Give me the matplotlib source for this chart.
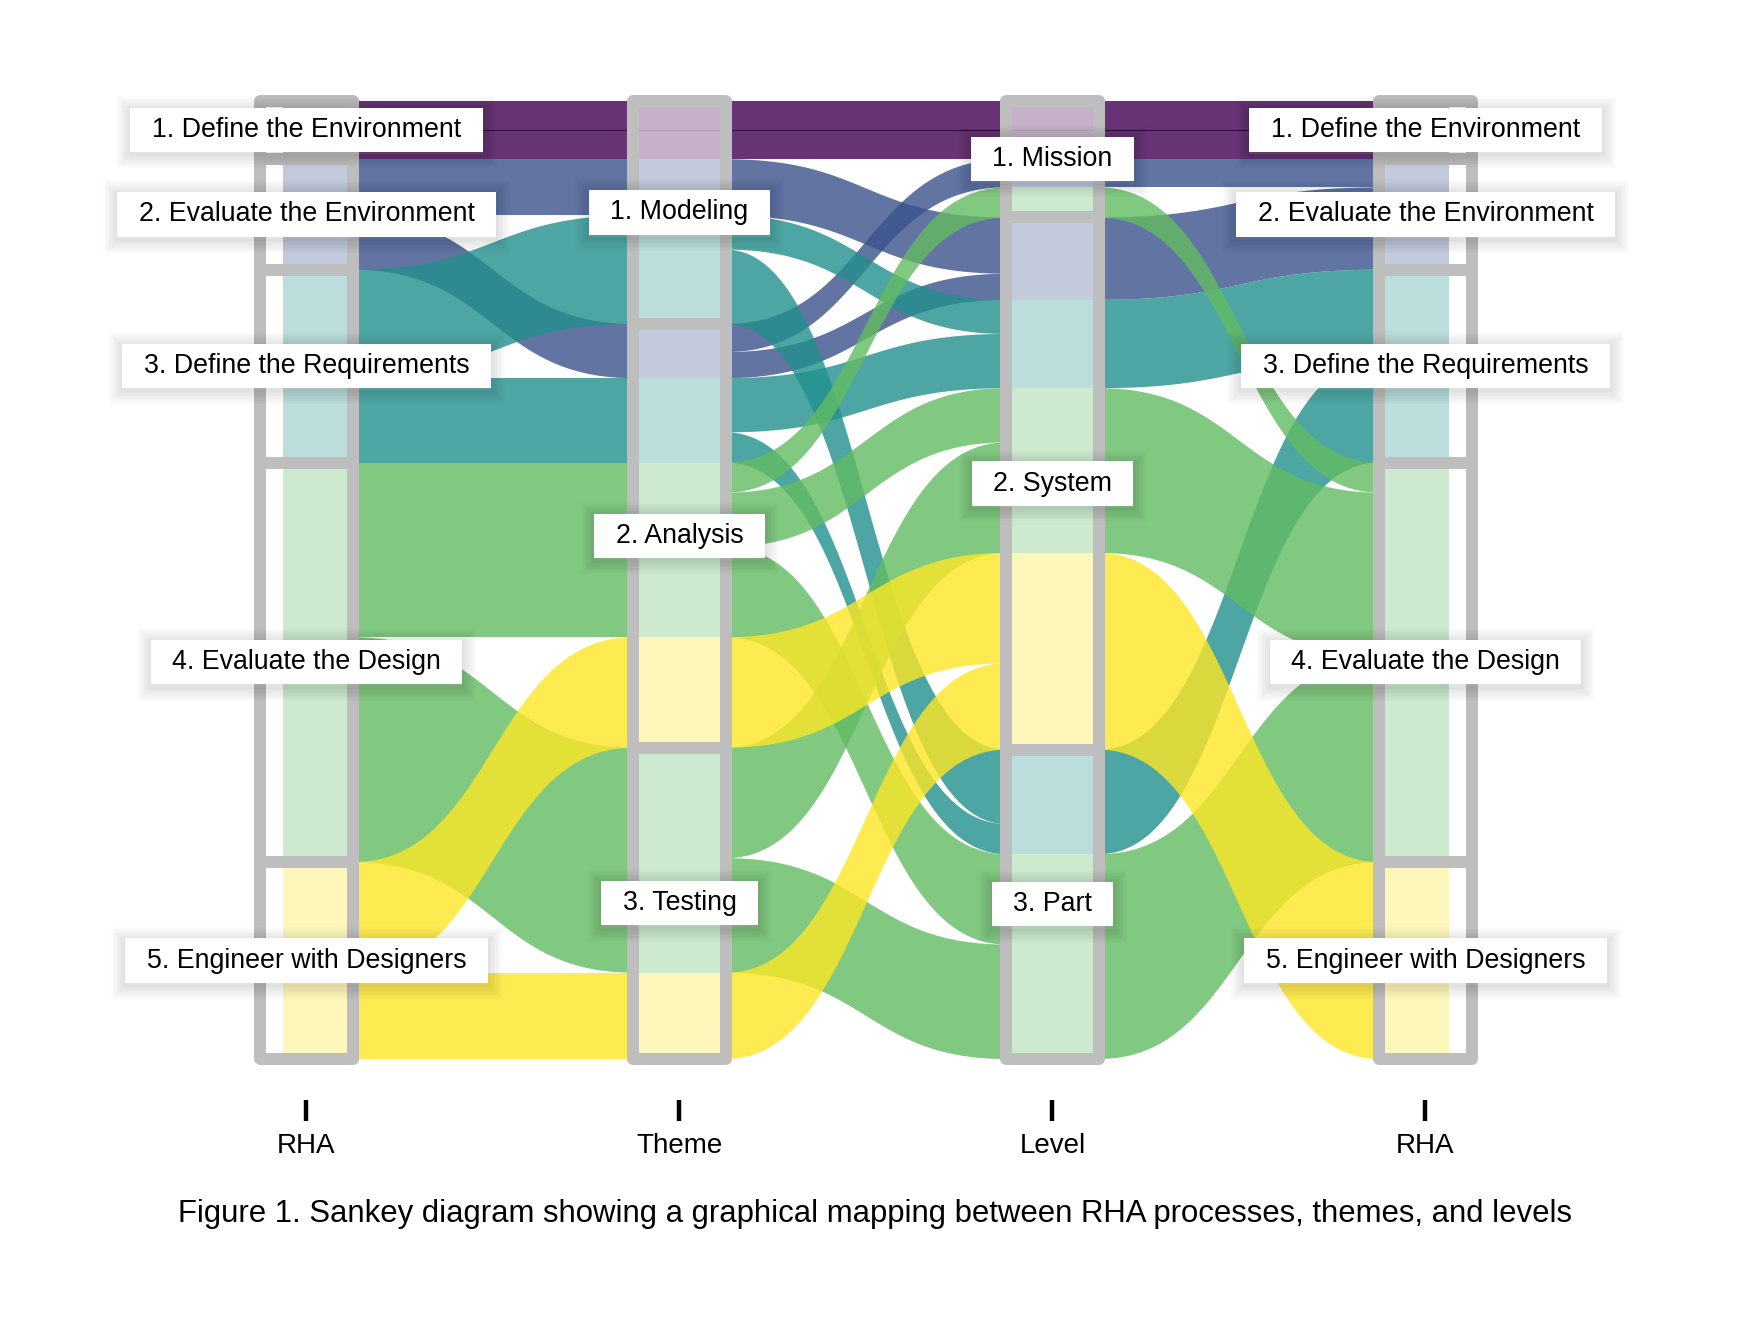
import numpy as np
import matplotlib
matplotlib.use("Agg")
import matplotlib.pyplot as plt
from matplotlib.patches import Rectangle
from matplotlib.path import Path
import matplotlib.patheffects as pe

# categories of the three variables
rha_names = ["1. Define the Environment", "2. Evaluate the Environment",
             "3. Define the Requirements", "4. Evaluate the Design",
             "5. Engineer with Designers"]
theme_names = ["1. Modeling", "2. Analysis", "3. Testing"]
level_names = ["1. Mission", "2. System", "3. Part"]
axis_titles = ["RHA", "Theme", "Level", "RHA"]

# one entry per alluvium (indices into the lists above) and its size
flow_rha = [0, 0, 1, 1, 1, 2, 2, 2, 2, 3, 3, 3, 3, 3, 4, 4]
flow_theme = [0, 0, 0, 1, 1, 0, 0, 1, 1, 1, 1, 1, 2, 2, 1, 2]
flow_level = [0, 0, 1, 0, 1, 1, 2, 1, 2, 0, 1, 2, 1, 2, 1, 1]
flow_size = [29, 29, 56, 28, 26, 34, 74, 54, 30, 30, 54, 90, 110, 114, 110, 86]

rha_colors = ["#440154", "#3b528b", "#21908c", "#62bc62", "#fde725"]

caption = ("Figure 1. Sankey diagram showing a graphical mapping between "
           "RHA processes, themes, and levels")

plt.rcParams['font.family'] = ['Liberation Sans', 'DejaVu Sans']

W, H, DPI = 1740, 1332, 100
fig = plt.figure(figsize=(W / DPI, H / DPI), dpi=DPI)

# layout in pixels
ax_bottom_px = 1100
top_px, bot_px = 101, 1059
x_first_px, x_last_px = 306.5, 1425.5

ax = fig.add_axes([0, (H - ax_bottom_px) / H, 1, ax_bottom_px / H])
n = len(flow_size)
total = sum(flow_size)
s = (bot_px - top_px) / total
u = (x_last_px - x_first_px) / (len(axis_titles) - 1)
ax.set_xlim(1 - x_first_px / u, 1 + (W - x_first_px) / u)
ax.set_ylim((ax_bottom_px - top_px) / s, -top_px / s)

xpos = np.arange(1, len(axis_titles) + 1)
w = 93 / u          # stratum width
stub = 23.5 / u     # flows start/end inside the outer strata

axis_vars = [flow_rha, flow_theme, flow_level, flow_rha]
axis_cats = [rha_names, theme_names, level_names, rha_names]
sort_keys = [(flow_theme, flow_level), (flow_rha, flow_level),
             (flow_rha, flow_theme), (flow_level, flow_theme)]

# stack the lodes inside every stratum
tops = np.zeros((4, n))
strata = []
for a in range(4):
    var = axis_vars[a]
    k1, k2 = sort_keys[a]
    y = 0
    for si, name in enumerate(axis_cats[a]):
        members = [i for i in range(n) if var[i] == si]
        members.sort(key=lambda i: (k1[i], k2[i]))
        y0 = y
        for i in members:
            tops[a, i] = y
            y += flow_size[i]
        strata.append((a, y0, y - y0, name))
bots = tops + np.array(flow_size)[None, :]


def sweep(x0, x1, y0, y1, m=80, h=0.5):
    t = np.linspace(0, 1, m)
    px = [x0, x0 + h * (x1 - x0), x1 - h * (x1 - x0), x1]
    py = [y0, y0, y1, y1]
    b = lambda p: ((1 - t) ** 3 * p[0] + 3 * (1 - t) ** 2 * t * p[1]
                   + 3 * (1 - t) * t ** 2 * p[2] + t ** 3 * p[3])
    return b(px), b(py)


def x_range(a):
    lo = xpos[a] - (stub if a == 0 else w / 2)
    hi = xpos[a] + (stub if a == 3 else w / 2)
    return lo, hi


# pieces: neighbouring lodes of one colour that travel together are drawn
# as one shape so no hairline seams appear between them
pieces = []
for a in range(4):
    order = sorted(range(n), key=lambda i: tops[a, i])
    groups = [[order[0]]]
    for i in order[1:]:
        j = groups[-1][-1]
        if flow_rha[i] == flow_rha[j] and np.isclose(tops[a, i], bots[a, j]):
            groups[-1].append(i)
        else:
            groups.append([i])
    lo, hi = x_range(a)
    for g in groups:
        y0, y1 = tops[a, g[0]], bots[a, g[-1]]
        pieces.append((flow_rha[g[0]], [lo, hi, hi, lo], [y0, y0, y1, y1]))

for a in range(3):
    order = sorted(range(n), key=lambda i: tops[a, i])
    groups = [[order[0]]]
    for i in order[1:]:
        j = groups[-1][-1]
        if (flow_rha[i] == flow_rha[j] and np.isclose(tops[a, i], bots[a, j])
                and np.isclose(tops[a + 1, i], bots[a + 1, j])):
            groups[-1].append(i)
        else:
            groups.append([i])
    xa, xb = xpos[a] + w / 2, xpos[a + 1] - w / 2
    for g in groups:
        xt, yt = sweep(xa, xb, tops[a, g[0]], tops[a + 1, g[0]])
        xbm, ybm = sweep(xa, xb, bots[a, g[-1]], bots[a + 1, g[-1]])
        pieces.append((flow_rha[g[0]], np.concatenate([xt, xbm[::-1]]),
                       np.concatenate([yt, ybm[::-1]])))

pieces.sort(key=lambda p: p[0])
for c, xs, ys in pieces:
    ax.fill(xs, ys, color=rha_colors[c], alpha=0.8, lw=0, zorder=2)

# thin dark seam between the two identical purple alluvia
for i in range(1, n):
    if (flow_rha[i], flow_theme[i], flow_level[i]) == \
            (flow_rha[i - 1], flow_theme[i - 1], flow_level[i - 1]):
        xs_l, ys_l = [x_range(0)[0]], [tops[0, i]]
        for a in range(4):
            lo, hi = x_range(a)
            xs_l += [lo, hi]
            ys_l += [tops[a, i], tops[a, i]]
            if a < 3:
                cx, cy = sweep(hi, x_range(a + 1)[0], tops[a, i], tops[a + 1, i])
                xs_l += list(cx)
                ys_l += list(cy)
        ax.plot(xs_l, ys_l, color="#2a0636", lw=0.8, alpha=0.8, zorder=2.5)

lw_border = 12 * 72 / DPI
for a, y0, hgt, name in strata:
    r = Rectangle((xpos[a] - w / 2, y0), w, hgt, facecolor=(1, 1, 1, 0.62),
                  edgecolor="#bebebe", lw=lw_border, zorder=3)
    r.set_joinstyle("round")
    ax.add_patch(r)


def label_box(x0, y0, width, height, mutation_size):
    px, py = 0.8 * mutation_size, 0.34 * mutation_size
    x0, y0 = x0 - px, y0 - py
    x1, y1 = x0 + width + 2 * px, y0 + height + 2 * py
    return Path([(x0, y0), (x1, y0), (x1, y1), (x0, y1), (x0, y0)],
                closed=True)


# soft shadow around the white label boxes
glow = [pe.Stroke(linewidth=lw, foreground="black", alpha=0.01,
                  offset=(0, -1.5)) for lw in range(20, 0, -2)] + [pe.Normal()]

for a, y0, hgt, name in strata:
    t = ax.text(xpos[a], y0 + hgt / 2, name, ha="center", va="center",
                fontsize=19.3, color="black", zorder=6,
                bbox=dict(boxstyle=label_box, fc="white", ec="none"))
    t.get_bbox_patch().set_path_effects(glow)

ax.set_xticks(xpos)
ax.set_xticklabels(axis_titles)
ax.tick_params(axis="x", length=15, width=3.2, pad=9, labelsize=20,
               direction="out", color="black")
ax.set_yticks([])
for sp in ax.spines.values():
    sp.set_visible(False)

fig.text(0.503, (H - 1214) / H, caption, ha="center", va="center",
         fontsize=22.4)

fig.savefig("out.png", dpi=DPI)
